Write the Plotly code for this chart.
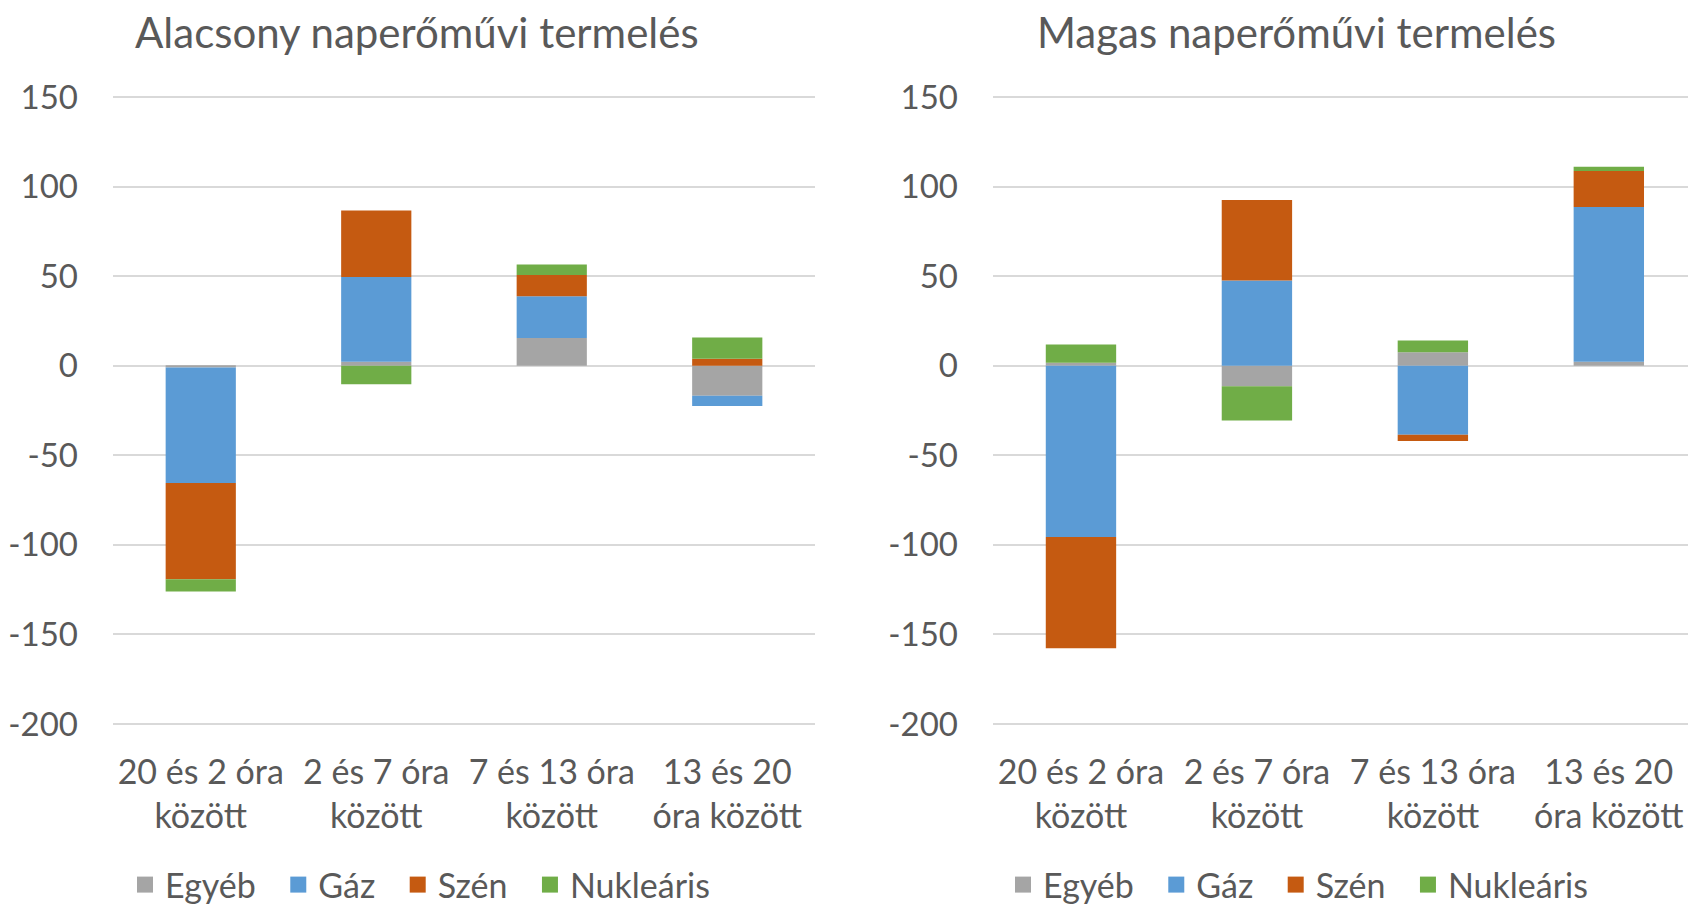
import plotly.graph_objects as go

W, H = 1688, 906

categories = ["20 és 2 óra<br>között", "2 és 7 óra<br>között",
              "7 és 13 óra<br>között", "13 és 20<br>óra között"]
series_names = ["Egyéb", "Gáz", "Szén", "Nukleáris"]
colors = ["#A5A5A5", "#5B9BD5", "#C55A11", "#70AD47"]

# Alacsony naperőművi termelés
low_egyeb = [-1.0, 2.2, 15.5, -16.7]
low_gaz = [-64.5, 47.3, 23.3, -5.8]
low_szen = [-53.7, 37.1, 11.9, 3.9]
low_nuk = [-6.8, -10.4, 5.8, 11.9]

# Magas naperőművi termelés
high_egyeb = [1.6, -11.4, 7.5, 2.2]
high_gaz = [-95.6, 47.6, -38.6, 86.4]
high_szen = [-62.1, 44.9, -3.4, 20.1]
high_nuk = [10.2, -19.2, 6.6, 2.4]

y_ticks = [-200, -150, -100, -50, 0, 50, 100, 150]
y_ticktext = ["-200", "-150", "-100", "-50", "0", "50", "100", "150"]

titles = ["Alacsony naperőművi termelés", "Magas naperőművi termelés"]

FONT = "Lato, Carlito, Calibri, sans-serif"
TXT = "#595959"
GRID = "#D9D9D9"
NB = "\u00a0\u00a0"

fig = go.Figure()

low = [low_egyeb, low_gaz, low_szen, low_nuk]
high = [high_egyeb, high_gaz, high_szen, high_nuk]

for vals, name, col in zip(low, series_names, colors):
    fig.add_trace(go.Bar(x=categories, y=vals, name=name, marker_color=col,
                         marker_line_width=0, width=0.4, showlegend=False,
                         xaxis="x", yaxis="y"))
for vals, name, col in zip(high, series_names, colors):
    fig.add_trace(go.Bar(x=categories, y=vals, name=name, marker_color=col,
                         marker_line_width=0, width=0.4, showlegend=False,
                         xaxis="x2", yaxis="y2"))

# legend-only entries
for leg, ax in (("legend", ("x", "y")), ("legend2", ("x2", "y2"))):
    for i, (name, col) in enumerate(zip(series_names, colors)):
        label = name + (NB if i < len(series_names) - 1 else "")
        fig.add_trace(go.Scatter(x=[None], y=[None], mode="markers", name=label,
                                 marker=dict(symbol="square", size=16, color=col),
                                 legend=leg, xaxis=ax[0], yaxis=ax[1]))

PX_PER_UNIT = (724 - 97) / 350.0
pad = 1.0
ydom = [1 - (724 + pad * PX_PER_UNIT) / H, 1 - (97 - pad * PX_PER_UNIT) / H]

yaxis_common = dict(range=[-200 - pad, 150 + pad], tickvals=y_ticks,
                    ticktext=y_ticktext, showgrid=True,
                    gridcolor=GRID, gridwidth=2, zeroline=True,
                    zerolinecolor=GRID, zerolinewidth=2, showline=False,
                    ticks="", tickfont=dict(family=FONT, size=33, color=TXT),
                    domain=ydom, ticklabelstandoff=34, automargin=False)
xaxis_common = dict(showgrid=False, showline=False, ticks="", zeroline=False,
                    tickfont=dict(family=FONT, size=34, color=TXT),
                    type="category", ticklabelstandoff=23, automargin=False)

legend_common = dict(orientation="h", y=-8 / H, xanchor="left", yanchor="bottom",
                     font=dict(family=FONT, size=34, color=TXT),
                     itemwidth=30, tracegroupgap=0, bgcolor="rgba(0,0,0,0)")

fig.update_layout(
    width=W, height=H,
    margin=dict(l=0, r=0, t=0, b=0, autoexpand=False),
    paper_bgcolor="white", plot_bgcolor="white",
    barmode="relative",
    font=dict(family=FONT, color=TXT),
    xaxis=dict(domain=[113 / W, 815 / W], range=[-0.5, 3.5], anchor="y",
               **xaxis_common),
    yaxis=dict(anchor="x", **yaxis_common),
    xaxis2=dict(domain=[993 / W, 1.0], range=[-0.5, 3.45], anchor="y2",
                **xaxis_common),
    yaxis2=dict(anchor="x2", **yaxis_common),
    legend=dict(x=125 / W, **legend_common),
    legend2=dict(x=1003 / W, **legend_common),
    annotations=[
        dict(text=titles[0], x=417 / W, y=1 - 32 / H, xref="paper", yref="paper",
             showarrow=False, xanchor="center", yanchor="middle",
             font=dict(family=FONT, size=42, color=TXT)),
        dict(text=titles[1], x=1296 / W, y=1 - 32 / H, xref="paper", yref="paper",
             showarrow=False, xanchor="center", yanchor="middle",
             font=dict(family=FONT, size=42, color=TXT)),
    ],
)

fig.write_html(
    "out.html",
    config={"displayModeBar": False},
    post_script="document.body.style.margin='0';document.body.style.overflow='hidden';",
)
